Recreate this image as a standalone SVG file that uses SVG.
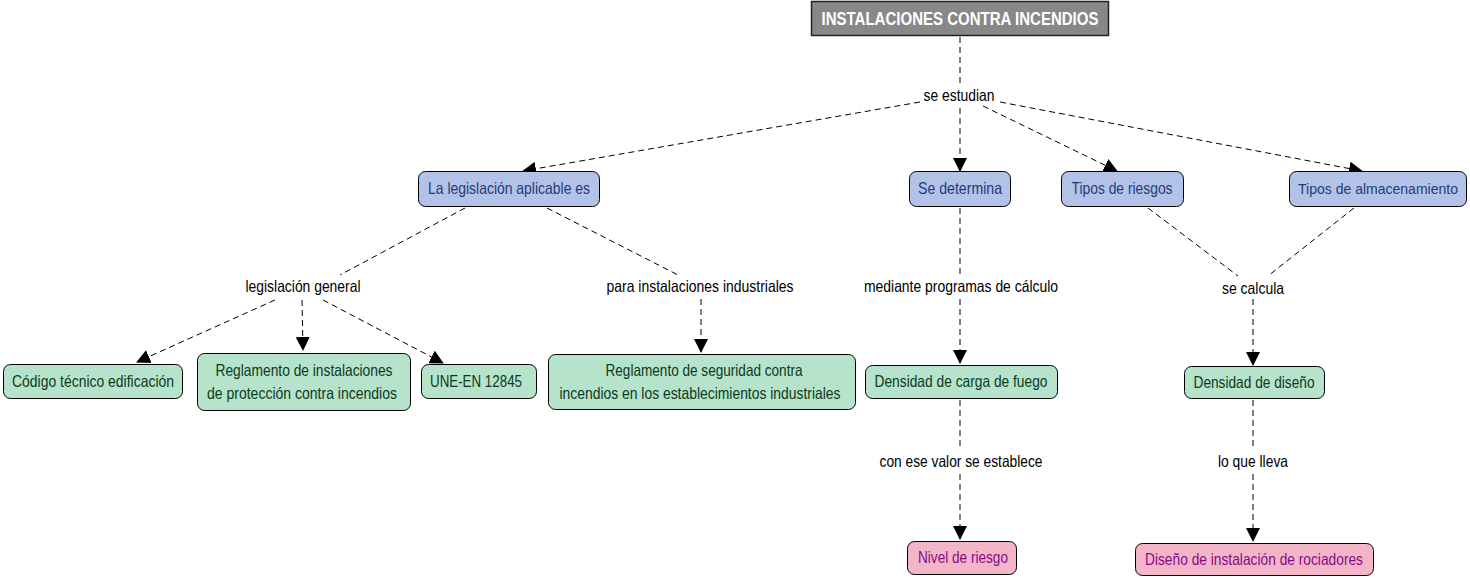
<svg xmlns="http://www.w3.org/2000/svg" width="1470" height="579" viewBox="0 0 1470 579">
<style>
text{font-family:"Liberation Sans Narrow","Arial Narrow","Liberation Sans",sans-serif;font-size:16.5px;text-anchor:middle}
.lbl{fill:#000}
.blue rect{fill:#b3c3e8;stroke:#000;stroke-width:1}
.blue text{fill:#253b7a}
.green rect{fill:#b5e3cc;stroke:#000;stroke-width:1}
.green text{fill:#0d3a1b}
.pink rect{fill:#f2b6c8;stroke:#000;stroke-width:1}
.pink text{fill:#8a0a85}
.c line{stroke:#000;stroke-width:1;stroke-dasharray:6,4;fill:none}
.c line.a{marker-end:url(#ah)}
</style>
<defs>
<marker id="ah" markerUnits="userSpaceOnUse" markerWidth="14" markerHeight="14" viewBox="0 0 14 14" refX="13" refY="7" orient="auto">
<path d="M0,0 L14,7 L0,14 Z" fill="#000"/>
</marker>
</defs>
<rect width="1470" height="579" fill="#fff"/>
<g class="c" id="connectors">
<line x1="960" y1="37" x2="960" y2="85"/>
<line class="a" x1="920" y1="102" x2="523" y2="171"/>
<line class="a" x1="960" y1="108" x2="960" y2="171"/>
<line class="a" x1="983" y1="106" x2="1117" y2="171"/>
<line class="a" x1="1000" y1="102" x2="1362" y2="171"/>
<line x1="465" y1="208" x2="340" y2="275"/>
<line x1="547" y1="208" x2="680" y2="276"/>
<line class="a" x1="275" y1="300" x2="137" y2="362"/>
<line class="a" x1="302" y1="300" x2="303" y2="350"/>
<line class="a" x1="323" y1="300" x2="443" y2="363"/>
<line class="a" x1="701" y1="299" x2="701" y2="352"/>
<line x1="960" y1="208" x2="960" y2="275"/>
<line class="a" x1="960" y1="299" x2="960" y2="363"/>
<line x1="1148" y1="208" x2="1238" y2="276"/>
<line x1="1354" y1="208" x2="1268" y2="276"/>
<line class="a" x1="1253" y1="299" x2="1253" y2="365"/>
<line x1="960" y1="400" x2="960" y2="450"/>
<line class="a" x1="960" y1="474" x2="960" y2="539"/>
<line x1="1253" y1="400" x2="1253" y2="450"/>
<line class="a" x1="1253" y1="474" x2="1253" y2="541"/>
</g>
<g id="title">
<rect x="811.5" y="1.5" width="297" height="34" fill="#888" stroke="#222" stroke-width="1.5"/>
<text x="960" y="25" textLength="277" lengthAdjust="spacingAndGlyphs" style="font-weight:bold;font-size:18px;fill:#fff">INSTALACIONES CONTRA INCENDIOS</text>
</g>
<g id="lbl-se-estudian"><text class="lbl" x="959" y="101" textLength="71" lengthAdjust="spacingAndGlyphs">se estudian</text></g>
<g id="n-legislacion" class="blue"><rect x="418.5" y="171.5" width="181" height="35" rx="7"/><text x="509" y="194" textLength="162" lengthAdjust="spacingAndGlyphs">La legislación aplicable es</text></g>
<g id="n-se-determina" class="blue"><rect x="909.5" y="171.5" width="101" height="35" rx="7"/><text x="960" y="194" textLength="84" lengthAdjust="spacingAndGlyphs">Se determina</text></g>
<g id="n-tipos-riesgos" class="blue"><rect x="1061.5" y="171.5" width="122" height="35" rx="7"/><text x="1122" y="194" textLength="101" lengthAdjust="spacingAndGlyphs">Tipos de riesgos</text></g>
<g id="n-tipos-almac" class="blue"><rect x="1289.5" y="171.5" width="177" height="35" rx="7"/><text x="1378" y="194" textLength="160" lengthAdjust="spacingAndGlyphs" style="font-size:15px">Tipos de almacenamiento</text></g>
<g id="lbl-leg-general"><text class="lbl" x="303" y="292" textLength="115" lengthAdjust="spacingAndGlyphs">legislación general</text></g>
<g id="lbl-para-inst"><text class="lbl" x="700" y="292" textLength="187" lengthAdjust="spacingAndGlyphs">para instalaciones industriales</text></g>
<g id="lbl-mediante"><text class="lbl" x="961" y="292" textLength="194" lengthAdjust="spacingAndGlyphs">mediante programas de cálculo</text></g>
<g id="lbl-se-calcula"><text class="lbl" x="1253" y="294" textLength="62" lengthAdjust="spacingAndGlyphs">se calcula</text></g>
<g id="n-codigo" class="green"><rect x="3.5" y="364.5" width="179" height="34" rx="7"/><text x="93" y="387" textLength="162" lengthAdjust="spacingAndGlyphs">Código técnico edificación</text></g>
<g id="n-reglamento-inst" class="green"><rect x="197.5" y="353.5" width="213" height="57" rx="7"/><text x="304" y="376" textLength="177" lengthAdjust="spacingAndGlyphs">Reglamento de instalaciones</text><text x="302" y="399" textLength="190" lengthAdjust="spacingAndGlyphs">de protección contra incendios</text></g>
<g id="n-une" class="green"><rect x="421.5" y="364.5" width="115" height="34" rx="7"/><text x="476" y="387" textLength="92" lengthAdjust="spacingAndGlyphs">UNE-EN 12845</text></g>
<g id="n-reglamento-seg" class="green"><rect x="548.5" y="354.5" width="307" height="55" rx="7"/><text x="704" y="376" textLength="197" lengthAdjust="spacingAndGlyphs">Reglamento de seguridad contra</text><text x="700" y="399" textLength="281" lengthAdjust="spacingAndGlyphs">incendios en los establecimientos industriales</text></g>
<g id="n-densidad-carga" class="green"><rect x="865.5" y="365.5" width="192" height="33" rx="7"/><text x="961" y="387" textLength="173" lengthAdjust="spacingAndGlyphs">Densidad de carga de fuego</text></g>
<g id="n-densidad-diseno" class="green"><rect x="1184.5" y="366.5" width="140" height="32" rx="7"/><text x="1254" y="388" textLength="121" lengthAdjust="spacingAndGlyphs">Densidad de diseño</text></g>
<g id="lbl-con-ese"><text class="lbl" x="961" y="467" textLength="163" lengthAdjust="spacingAndGlyphs">con ese valor se establece</text></g>
<g id="lbl-lo-que"><text class="lbl" x="1253" y="467" textLength="70" lengthAdjust="spacingAndGlyphs">lo que lleva</text></g>
<g id="n-nivel" class="pink"><rect x="907.5" y="541.5" width="109" height="33" rx="7"/><text x="963" y="563" textLength="90" lengthAdjust="spacingAndGlyphs">Nivel de riesgo</text></g>
<g id="n-diseno" class="pink"><rect x="1135.5" y="543.5" width="238" height="32" rx="7"/><text x="1254" y="565" textLength="218" lengthAdjust="spacingAndGlyphs">Diseño de instalación de rociadores</text></g>
</svg>
